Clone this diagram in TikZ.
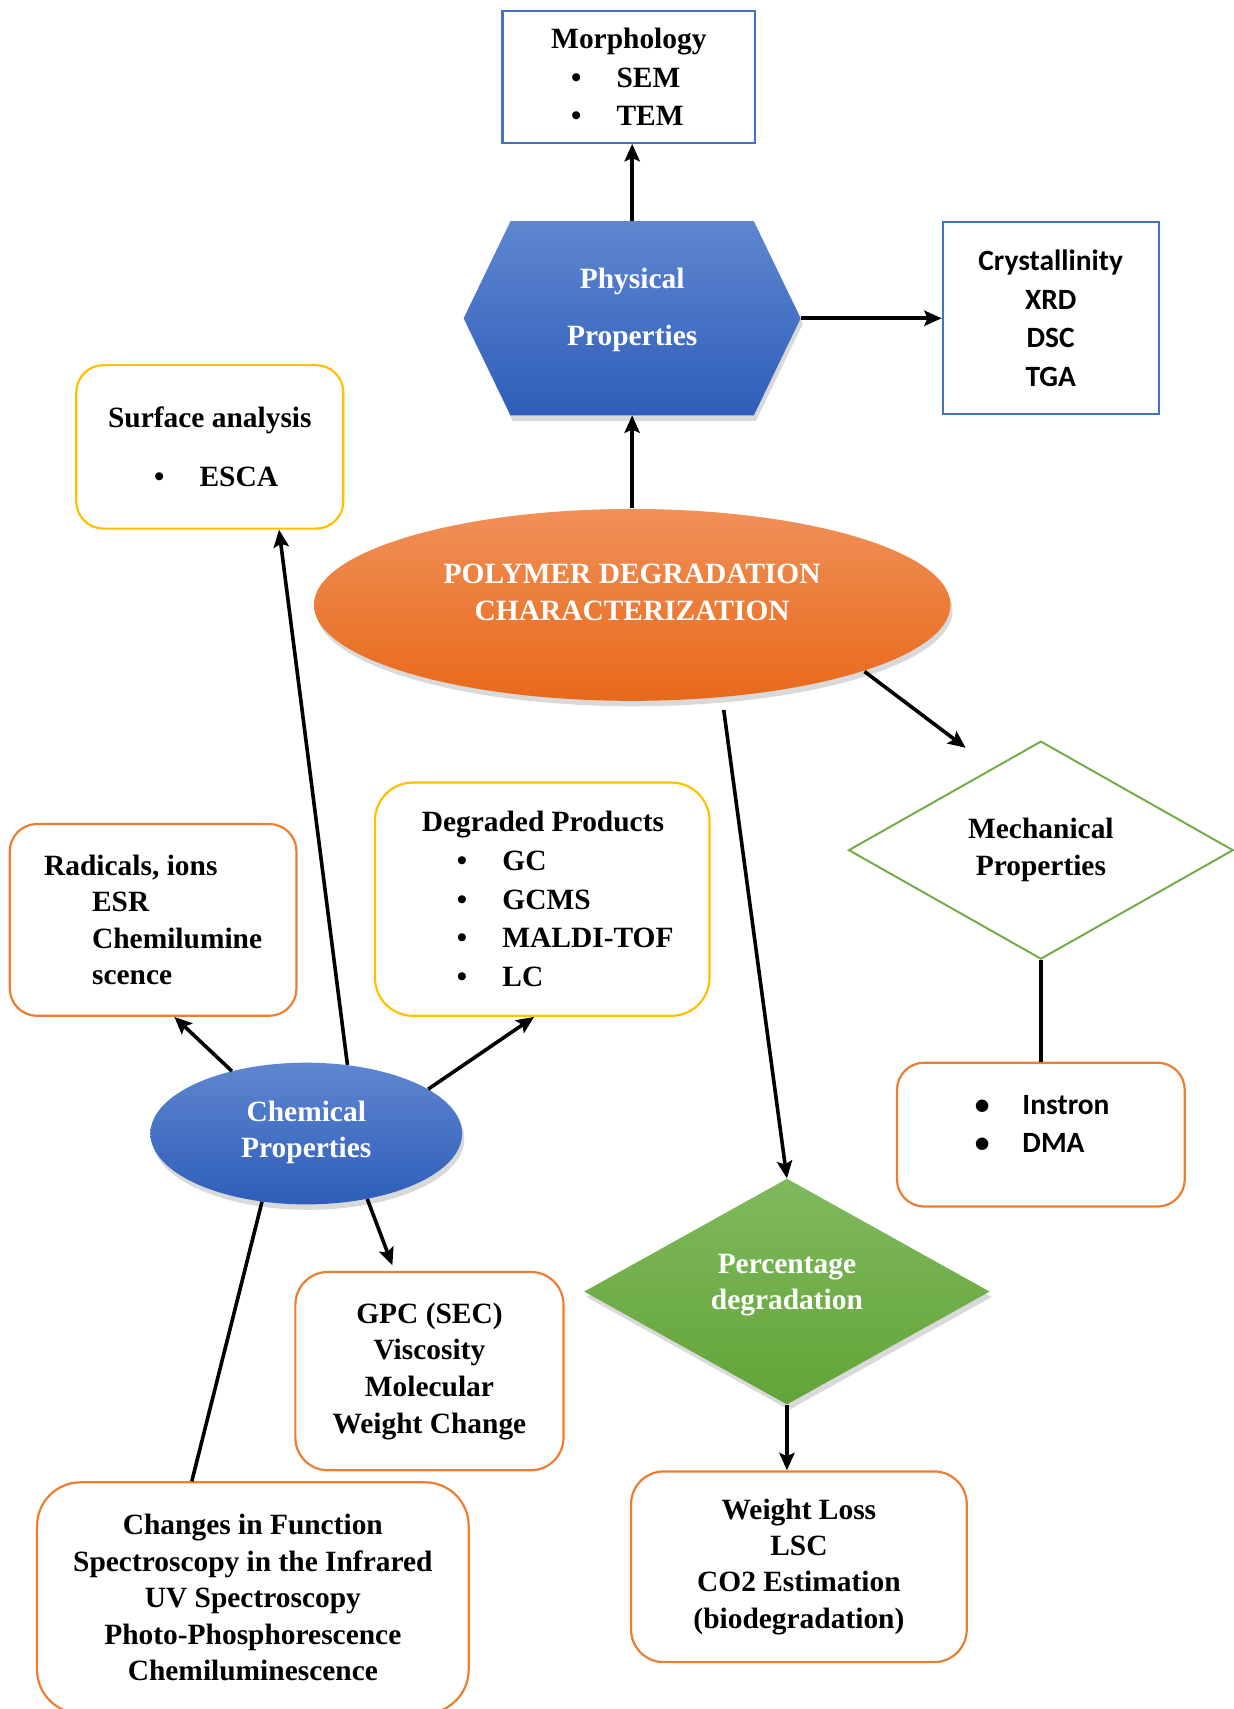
\documentclass[tikz,border=0pt]{standalone}
\usepackage{fontspec}
\setmainfont{Liberation Serif}
\newfontfamily\calibri{Carlito}
\usetikzlibrary{shapes.geometric,arrows.meta,shadows}
\pgfdeclarelayer{background}
\pgfsetlayers{background,main}

\definecolor{bluebd}{HTML}{4472C4}
\definecolor{yellowbd}{HTML}{FFC000}
\definecolor{orangebd}{HTML}{ED7D31}
\definecolor{greenbd}{HTML}{70AD47}
\definecolor{bluetop}{HTML}{5F86CF}
\definecolor{bluebot}{HTML}{2E5EBA}
\definecolor{orangetop}{HTML}{F09058}
\definecolor{orangebot}{HTML}{E8691A}
\definecolor{greentop}{HTML}{80B95E}
\definecolor{greenbot}{HTML}{62A437}

\newcommand{\itemdot}{\makebox[18pt][c]{\textbullet}\hspace{28pt}}

\tikzset{every picture/.style={line width=2.2pt}}
\tikzset{
  txt/.style={font=\fontsize{27}{34}\selectfont\bfseries, align=center, inner sep=0pt},
  cal/.style={font=\calibri\fontsize{27}{35.5}\selectfont\bfseries},
  sqbox/.style={txt, draw=bluebd, line width=2pt},
  rbox/.style={txt, draw=orangebd, rounded corners=30pt, line width=2pt},
  ybox/.style={rbox, draw=yellowbd},
  shd/.style={drop shadow={shadow xshift=2pt, shadow yshift=-5pt, opacity=.3}},
  blueov/.style={txt, ellipse, text=white, top color=bluetop, bottom color=bluebot, shd},
  arr/.style={-{Stealth[length=16pt,width=14pt,inset=3pt]}, line width=3.3pt},
  ln/.style={line width=3.3pt}
}

\begin{document}
\begin{tikzpicture}[x=1pt,y=-1pt]
	\useasboundingbox (0,0) rectangle (1132,1568);
	
	% top part
	\node[sqbox, minimum width=232, minimum height=121, align=left, font=\fontsize{27}{35}\selectfont\bfseries] (morph) at (577,70.5) {Morphology\\\hspace*{14pt}\itemdot SEM\\\hspace*{14pt}\itemdot TEM};
	\node[txt, text=white, minimum width=307, minimum height=176, font=\fontsize{27}{35}\selectfont\bfseries] (phys) at (580,292) {Physical\\[18pt]Properties\\[-14pt]};
	\node[sqbox, cal, minimum width=198, minimum height=176] (cryst) at (964,292) {Crystallinity\\XRD\\DSC\\TGA};
	\node[ybox, rounded corners=25pt, minimum width=245, minimum height=150, align=left] (surf) at (192.5,410) {Surface analysis\\[20pt]\hspace*{38pt}\itemdot ESCA};
	
	% main ellipse
	\node[txt, ellipse, text=white, top color=orangetop, bottom color=orangebot, shd, minimum width=584, minimum height=176] (poly) at (580,555) {POLYMER DEGRADATION\\CHARACTERIZATION\\[-10pt]};
	
	\begin{pgfonlayer}{background}
	\shade[top color=bluetop, bottom color=bluebot, shd] ([xshift=43pt]phys.north west) -- ([xshift=-43pt]phys.north east) -- (phys.east) -- ([xshift=-43pt]phys.south east) -- ([xshift=43pt]phys.south west) -- (phys.west) -- cycle;
	\end{pgfonlayer}
	
	% middle part
	\node[txt, diamond, draw=greenbd, line width=1.8pt, minimum width=353, minimum height=200] (mech) at (955,780) {Mechanical\\Properties};
	\node[rbox, cal, rounded corners=25pt, minimum width=264, minimum height=132, align=left] (instr) at (955,1041) {\itemdot Instron\\\itemdot DMA\\[-16pt]};
	\node[ybox, rounded corners=35pt, minimum width=307, minimum height=214, align=left, font=\fontsize{27}{35.5}\selectfont\bfseries] (degr) at (497.5,825) {\hspace*{10pt}Degraded Products\\\hspace*{38pt}\itemdot GC\\\hspace*{38pt}\itemdot GCMS\\\hspace*{38pt}\itemdot MALDI-TOF\\\hspace*{38pt}\itemdot LC};
	\node[rbox, rounded corners=25pt, minimum width=263, minimum height=176, align=left, font=\fontsize{27}{33.5}\selectfont\bfseries] (radic) at (140.5,844) {Radicals, ions\\\hspace*{44pt}ESR\\\hspace*{44pt}Chemilumine\\\hspace*{44pt}scence};
	\node[blueov, minimum width=286, minimum height=130, font=\fontsize{27}{33}\selectfont\bfseries] (chem) at (281,1040) {Chemical\\Properties\\[-26pt]};
	
	% bottom part
	\node[rbox, minimum width=246, minimum height=182, font=\fontsize{27}{33.7}\selectfont\bfseries] (gpc) at (394,1258) {GPC (SEC)\\Viscosity\\Molecular\\Weight Change};
	\node[txt, diamond, text=white, top color=greentop, bottom color=greenbot, shd, minimum width=372, minimum height=198, font=\fontsize{27}{33}\selectfont\bfseries] (perc) at (722,1185) {Percentage\\degradation\\[-16pt]};
	\node[rbox, minimum width=308, minimum height=175, font=\fontsize{27}{33.3}\selectfont\bfseries] (wloss) at (733,1437.5) {Weight Loss\\LSC\\CO2 Estimation\\(biodegradation)};
	\node[rbox, rounded corners=40pt, minimum width=396, minimum height=212, font=\fontsize{27}{33.5}\selectfont\bfseries] (chg) at (232,1466) {Changes in Function\\Spectroscopy in the Infrared\\UV Spectroscopy\\Photo-Phosphorescence\\Chemiluminescence};
	
	\coordinate (mtip) at ([xshift=-69pt,yshift=-7pt]mech.north);
	
	% connectors
	\draw[arr] (poly.north) -- (phys.south);
	\draw[arr] (phys.north) -- (phys.north |- morph.south);
	\draw[arr] (phys.east) -- (cryst.west);
	\draw[arr] (poly.-16) -- (mtip);
	\draw[arr, shorten <=11pt] (poly.-46) -- (perc.north);
	\draw[ln] (mech.south) -- (instr.north);
	\draw[arr] (perc.south) -- (perc.south |- wloss.north);
	\draw[arr] (chem.140) -- ([xshift=19.5pt]radic.south);
	\draw[arr] (chem.59) -- ([xshift=63.5pt]surf.south);
	\draw[arr] (chem.20) -- ([xshift=-7.5pt]degr.south);
	\draw[arr] (chem.-47) -- ([xshift=-34pt,yshift=5pt]gpc.north);
	\draw[ln] (chem.-123) -- ([xshift=-56pt]chg.north);
	
\end{tikzpicture}
\end{document}
